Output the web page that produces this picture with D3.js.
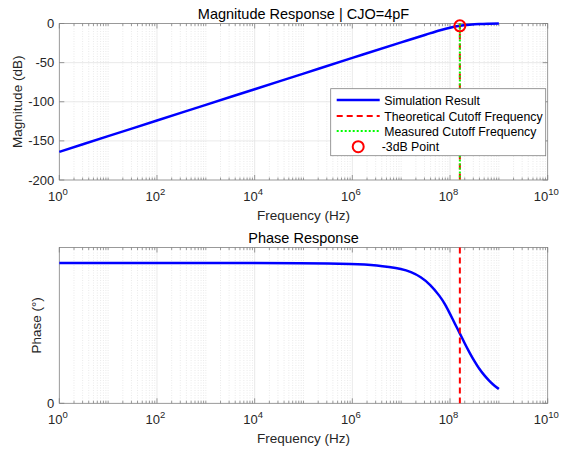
<!DOCTYPE html>
<html>
<head>
<meta charset="utf-8">
<script src="https://cdn.jsdelivr.net/npm/d3@7"></script>
<style>
  body { margin: 0; background: #fff; }
  svg { display: block; font-family: "Liberation Sans", Arial, sans-serif; }
</style>
</head>
<body>
<div id="chart"></div>
<script>
// values (frequency as log10 Hz)
const magLogF = [0, 1, 2, 3, 4, 5, 6, 7, 7.5, 7.8, 8.0, 8.2, 8.4, 8.6, 8.8, 9.0];
const magDb   = [-164, -144, -124, -104, -84, -64, -44, -24.1, -14.3, -8.6, -5.4, -3.0, -1.6, -0.7, -0.3, -0.1];

const phaseLogF = [0, 1, 2, 3, 4, 5, 5.5, 6.0, 6.25, 6.5, 6.75, 7.0, 7.2, 7.4, 7.6, 7.8, 7.9, 8.0, 8.1, 8.2, 8.3, 8.4, 8.5, 8.6, 8.7, 8.8, 8.9, 9.0];
const phaseDeg  = [90, 90, 90, 90, 90, 89.9, 89.8, 89.5, 89.1, 88.5, 87.5, 86.3, 84.4, 81.2, 76.2, 68.5, 63.5, 57.5, 51, 45, 38.5, 32.5, 27, 22, 18, 14.5, 11.5, 9.2];

const cutoffTheory = 1.59e8;
const cutoffMeasured = 1.59e8;
const point3dB = { f: 1.59e8, db: -3.0 };

const xTicks = [1e0, 1e2, 1e4, 1e6, 1e8, 1e10];
const magTicks = [0, -50, -100, -150, -200];
const phaseTicks = [0];

const legendItems = ["Simulation Result", "Theoretical Cutoff Frequency", "Measured Cutoff Frequency", "-3dB Point"];

const W = 562, H = 456;
const textColor = "#262626";
const frameColor = "#808080";

const svg = d3.select("#chart").append("svg")
  .attr("width", W).attr("height", H);

const x = d3.scaleLog().domain([1, 1e10]).range([59.3, 547.7]);
const yMag = d3.scaleLinear().domain([-200, 0]).range([180, 23.5]);
const yPh = d3.scaleLinear().domain([0, 100]).range([403.3, 247.5]);

// minor positions k*10^n that are not labelled ticks
const minorX = [];
for (let n = 0; n < 10; n++) {
  for (let k = 1; k < 10; k++) {
    const v = k * Math.pow(10, n);
    if (k === 1 && n % 2 === 0) continue;
    minorX.push(v);
  }
}

function supLabel(sel, v) {
  const e = Math.round(Math.log10(v));
  sel.text("");
  sel.append("tspan").text("10");
  sel.append("tspan").attr("dy", -6).attr("font-size", 9.5).text(e);
}

function drawAxes(y, yTicks, hGrid, title, yLabel, labelX) {
  const [x0, x1] = x.range();
  const [yb, yt] = y.range();
  const g = svg.append("g");

  // minor grid
  g.append("g").selectAll("line").data(minorX).join("line")
    .attr("x1", d => x(d)).attr("x2", d => x(d))
    .attr("y1", yt).attr("y2", yb)
    .attr("stroke", "#dcdcdc").attr("stroke-width", 0.6)
    .attr("stroke-dasharray", "1,1.5");

  // major grid
  g.append("g").selectAll("line").data(xTicks.slice(1, -1)).join("line")
    .attr("x1", d => x(d)).attr("x2", d => x(d))
    .attr("y1", yt).attr("y2", yb)
    .attr("stroke", "#e3e3e3").attr("stroke-width", 0.8);
  g.append("g").selectAll("line").data(hGrid).join("line")
    .attr("x1", x0).attr("x2", x1)
    .attr("y1", d => y(d)).attr("y2", d => y(d))
    .attr("stroke", "#e3e3e3").attr("stroke-width", 0.8);

  // frame
  g.append("rect")
    .attr("x", x0).attr("y", yt)
    .attr("width", x1 - x0).attr("height", yb - yt)
    .attr("fill", "none").attr("stroke", frameColor).attr("stroke-width", 0.8);

  // ticks (inside, top and bottom)
  const tk = g.append("g").attr("stroke", frameColor).attr("stroke-width", 0.8);
  tk.selectAll("line.mj").data(xTicks).join("line").attr("class", "mj")
    .attr("x1", d => x(d)).attr("x2", d => x(d)).attr("y1", yb).attr("y2", yb - 5);
  tk.selectAll("line.mjt").data(xTicks).join("line").attr("class", "mjt")
    .attr("x1", d => x(d)).attr("x2", d => x(d)).attr("y1", yt).attr("y2", yt + 5);
  tk.selectAll("line.mn").data(minorX).join("line").attr("class", "mn")
    .attr("x1", d => x(d)).attr("x2", d => x(d)).attr("y1", yb).attr("y2", yb - 2.5);
  tk.selectAll("line.mnt").data(minorX).join("line").attr("class", "mnt")
    .attr("x1", d => x(d)).attr("x2", d => x(d)).attr("y1", yt).attr("y2", yt + 2.5);
  tk.selectAll("line.yl").data(yTicks).join("line").attr("class", "yl")
    .attr("x1", x0).attr("x2", x0 + 5).attr("y1", d => y(d)).attr("y2", d => y(d));
  tk.selectAll("line.yr").data(yTicks).join("line").attr("class", "yr")
    .attr("x1", x1).attr("x2", x1 - 5).attr("y1", d => y(d)).attr("y2", d => y(d));

  // x tick labels
  g.append("g").selectAll("text").data(xTicks).join("text")
    .attr("x", d => x(d) - 1.5).attr("y", yb + 21)
    .attr("text-anchor", "middle").attr("font-size", 13).attr("fill", textColor)
    .each(function (d) { supLabel(d3.select(this), d); });

  // y tick labels
  g.append("g").selectAll("text").data(yTicks).join("text")
    .attr("x", x0 - 5).attr("y", d => y(d) + 4.5)
    .attr("text-anchor", "end").attr("font-size", 13).attr("fill", textColor)
    .text(d => d);

  g.append("text")
    .attr("x", (x0 + x1) / 2).attr("y", yb + 40)
    .attr("text-anchor", "middle").attr("font-size", 13.5).attr("fill", textColor)
    .text("Frequency (Hz)");

  g.append("text")
    .attr("x", (x0 + x1) / 2).attr("y", yt - 5)
    .attr("text-anchor", "middle").attr("font-size", 14.5).attr("fill", "#000")
    .text(title);

  g.append("text")
    .attr("transform", `translate(${labelX},${(yt + yb) / 2}) rotate(-90)`)
    .attr("text-anchor", "middle").attr("font-size", 13.5).attr("fill", textColor)
    .text(yLabel);
}

drawAxes(yMag, magTicks, [-50, -100, -150], "Magnitude Response | CJO=4pF", "Magnitude (dB)", 22);
drawAxes(yPh, phaseTicks, [], "Phase Response", "Phase (°)", 41);

// magnitude plot
const magData = magLogF.map((l, i) => ({ f: Math.pow(10, l), v: magDb[i] }));
const magLine = d3.line().x(d => x(d.f)).y(d => yMag(d.v)).curve(d3.curveMonotoneX);
svg.append("path").datum(magData)
  .attr("d", magLine).attr("fill", "none")
  .attr("stroke", "#0000ff").attr("stroke-width", 2.5);

svg.append("line")
  .attr("x1", x(cutoffTheory)).attr("x2", x(cutoffTheory))
  .attr("y1", yMag(0)).attr("y2", yMag(-200))
  .attr("stroke", "#ff0000").attr("stroke-width", 2).attr("stroke-dasharray", "6,4");
svg.append("line")
  .attr("x1", x(cutoffMeasured)).attr("x2", x(cutoffMeasured))
  .attr("y1", yMag(0)).attr("y2", yMag(-200))
  .attr("stroke", "#00ff00").attr("stroke-width", 2).attr("stroke-dasharray", "2,2");

svg.append("circle")
  .attr("cx", x(point3dB.f)).attr("cy", yMag(point3dB.db)).attr("r", 5.5)
  .attr("fill", "none").attr("stroke", "#ff0000").attr("stroke-width", 2);

// phase plot
const phData = phaseLogF.map((l, i) => ({ f: Math.pow(10, l), v: phaseDeg[i] }));
const phLine = d3.line().x(d => x(d.f)).y(d => yPh(d.v)).curve(d3.curveBasis);
svg.append("path").datum(phData)
  .attr("d", phLine).attr("fill", "none")
  .attr("stroke", "#0000ff").attr("stroke-width", 2.5);
svg.append("line")
  .attr("x1", x(cutoffTheory)).attr("x2", x(cutoffTheory))
  .attr("y1", yPh(100)).attr("y2", yPh(0))
  .attr("stroke", "#ff0000").attr("stroke-width", 2).attr("stroke-dasharray", "6,4");

// legend
const lg = svg.append("g").attr("transform", "translate(330.7,88.7)");
lg.append("rect").attr("width", 215).attr("height", 67)
  .attr("fill", "#fff").attr("stroke", frameColor).attr("stroke-width", 0.8);
const rowY = [11.3, 27.3, 42.3, 58];
legendItems.forEach((name, i) => {
  const r = lg.append("g").attr("transform", `translate(0,${rowY[i]})`);
  if (i === 0) {
    r.append("line").attr("x1", 6).attr("x2", 49).attr("stroke", "#0000ff").attr("stroke-width", 2.5);
  } else if (i === 1) {
    r.append("line").attr("x1", 6).attr("x2", 49).attr("stroke", "#ff0000").attr("stroke-width", 2).attr("stroke-dasharray", "6,4");
  } else if (i === 2) {
    r.append("line").attr("x1", 6).attr("x2", 49).attr("stroke", "#00ff00").attr("stroke-width", 2).attr("stroke-dasharray", "2,2");
  } else {
    r.append("circle").attr("cx", 27.5).attr("r", 5.5).attr("fill", "none")
      .attr("stroke", "#ff0000").attr("stroke-width", 2);
  }
  r.append("text").attr("x", i === 3 ? 51 : 53.5).attr("y", 4.5)
    .attr("font-size", 12.3).attr("fill", "#000").text(name);
});
</script>
</body>
</html>
